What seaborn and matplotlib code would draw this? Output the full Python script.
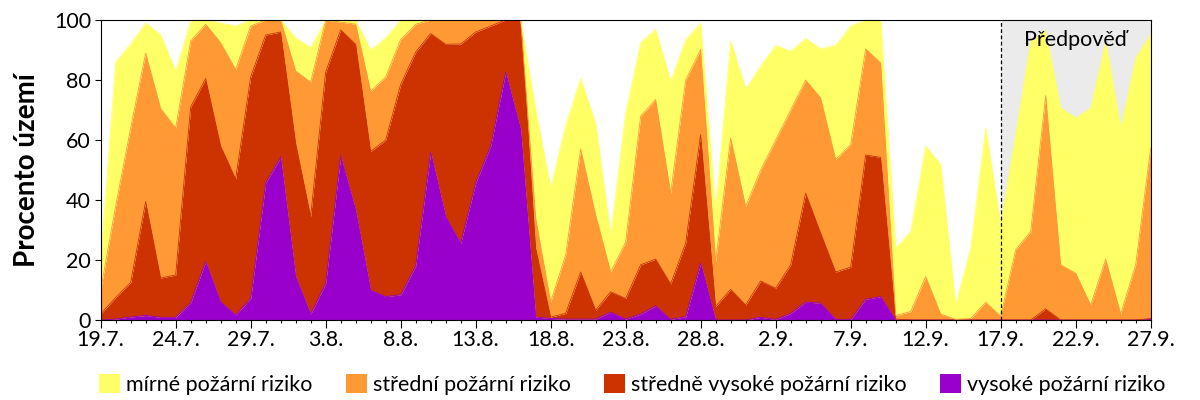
import numpy as np
import pandas as pd
import matplotlib
matplotlib.use("Agg")
import matplotlib.pyplot as plt
from matplotlib.patches import Patch
from matplotlib.ticker import MultipleLocator
import seaborn as sns

# ---- data (percent of territory per day, 19.7. - 27.9.) ----
day_index = list(range(71))
tick_labels = ["19.7.", "24.7.", "29.7.", "3.8.", "8.8.", "13.8.", "18.8.", "23.8.",
               "28.8.", "2.9.", "7.9.", "12.9.", "17.9.", "22.9.", "27.9."]

vysoke = [0, 0.3, 1, 1.5, 0.9, 0.9, 5.8, 19.5, 6, 1.7, 7.2, 45.7, 54.3, 14.5, 2, 12.2,
          54.6, 36.7, 10, 7.8, 8.4, 18, 56, 34.5, 25.6, 45.7, 58, 82.6, 63.5, 1, 0.5,
          0.3, 0.3, 0.3, 2.6, 0.3, 2, 4.7, 0.2, 1.1, 19, 0, 0, 0, 0.9, 0.2, 2.2, 6,
          5.6, 0.2, 0.2, 6.9, 7.8, 0, 0, 0, 0, 0, 0, 0, 0, 0, 0, 0, 0, 0, 0, 0, 0, 0, 0.2]
stredne_vysoke = [2, 7.2, 11.5, 38, 13.1, 14.1, 65.2, 61, 52, 45.3, 73.8, 49.3, 41.7,
                  44.5, 32.5, 70.4, 42.1, 55.2, 46.2, 52.2, 70.1, 71.3, 39.5, 57.4, 66.4,
                  50.3, 40, 17.4, 36.5, 23, 0.5, 1.9, 15.7, 3, 6.8, 6.9, 16.4, 15.6, 11.8,
                  24.5, 42.8, 4.5, 10.2, 5, 12.1, 10.4, 16.2, 36.3, 23.4, 15.8, 17.4, 48.1,
                  46.4, 0.3, 0, 0, 0, 0, 0, 0, 0, 0, 0, 3.7, 0, 0, 0, 0, 0, 0, 0.3]
stredni = [8, 30.5, 51.5, 49.5, 56.5, 49, 22, 18.1, 34.4, 36.5, 17, 5, 4, 24, 44.8, 17.4,
           2.6, 6.7, 20.1, 21, 15, 9.3, 4.5, 8.1, 8, 4, 2, 0, 0, 10, 5, 19.5, 41, 31.7,
           6.6, 18.8, 49.6, 53.2, 30.3, 54.4, 28.4, 15, 50.5, 32.9, 37, 49.4, 51.6, 37.7,
           45, 37.5, 40.9, 35.4, 31.5, 1.2, 2.8, 14.5, 2, 0.2, 0.5, 5.9, 1.3, 23.4, 29.5,
           71.1, 18.4, 15.6, 5, 20.3, 2, 18.4, 56.8]
mirne = [10, 48, 28, 10, 24.5, 19, 6.7, 1.4, 6.6, 14.5, 2, 0, 0, 11, 11.5, 0, 0.7, 1.4,
         13.7, 13, 6.5, 1.4, 0, 0, 0, 0, 0, 0, 0, 36, 38, 43.3, 23.5, 30.5, 12.3, 43,
         24.5, 23.4, 37.3, 13.5, 8.7, 17.2, 32.3, 39.1, 34.7, 31.5, 19.6, 13.8, 16.4, 38,
         39.5, 9.6, 14.3, 22.5, 26.7, 43.5, 49.8, 4.8, 23.5, 58.1, 30.7, 38.6, 63.5, 21.5,
         52.3, 51.8, 65.7, 72.7, 62, 69, 37.9]

series_names = ["vysoké požární riziko", "středně vysoké požární riziko",
                "střední požární riziko", "mírné požární riziko"]
series_colors = ["#9900CC", "#CC3300", "#FF9933", "#FFFF66"]
forecast_start = 60
forecast_label = "Předpověď"
y_label = "Procento území"

df = pd.DataFrame({"den": day_index,
                   series_names[0]: vysoke,
                   series_names[1]: stredne_vysoke,
                   series_names[2]: stredni,
                   series_names[3]: mirne})

# ---- style ----
sns.set_theme(style="ticks")
plt.rcParams["font.family"] = ["Lato", "DejaVu Sans"]
plt.rcParams["axes.linewidth"] = 0.8
plt.rcParams["axes.edgecolor"] = "black"
plt.rcParams["text.color"] = "black"
plt.rcParams["axes.labelcolor"] = "black"
plt.rcParams["xtick.color"] = "black"
plt.rcParams["ytick.color"] = "black"

fig = plt.figure(figsize=(12, 4), dpi=100)
ax = fig.add_axes([100.67 / 1200, 80 / 400, 1050 / 1200, 300 / 400])

# forecast background
ax.axvspan(forecast_start, day_index[-1], color="#EBEBEB", zorder=0, lw=0)

lower = np.zeros(len(day_index))
for name, col in zip(series_names, series_colors):
    upper = lower + df[name].to_numpy()
    ax.fill_between(df["den"], lower, upper, color=col, lw=0, zorder=2)
    sns.lineplot(x=df["den"], y=upper, color=col, lw=0.6, ax=ax, zorder=2.5)
    lower = upper

ax.axvline(forecast_start, color="black", ls=(0, (3, 2)), lw=0.9, zorder=4)
ax.text(65, 93.3, forecast_label, ha="center", va="center", fontsize=15.5, zorder=5)

ax.set_xlim(0, 70)
ax.set_ylim(0, 100)
ax.set_xticks(range(0, 71, 5))
ax.set_xticklabels(tick_labels)
ax.xaxis.set_minor_locator(MultipleLocator(1))
ax.set_yticks(range(0, 101, 20))
ax.tick_params(axis="both", which="major", direction="out", length=4, width=0.8,
               labelsize=15.5, pad=3)
ax.tick_params(axis="x", which="minor", direction="out", length=2, width=0.8)
ax.tick_params(axis="x", which="major", length=6, pad=1)
ax.set_xlabel("")
ax.set_ylabel(y_label, fontsize=20, fontweight="bold", labelpad=10)
for s in ax.spines.values():
    s.set_visible(True)
    s.set_zorder(6)

handles = [Patch(facecolor=c, edgecolor="none") for c in series_colors[::-1]]
fig.legend(handles, series_names[::-1], loc="center", bbox_to_anchor=(0.527, 0.038),
           ncol=4, frameon=False, fontsize=15.5, handlelength=0.95, handleheight=0.95,
           handletextpad=0.3, columnspacing=1.55, borderaxespad=0)

fig.savefig("out.png", dpi=100)
